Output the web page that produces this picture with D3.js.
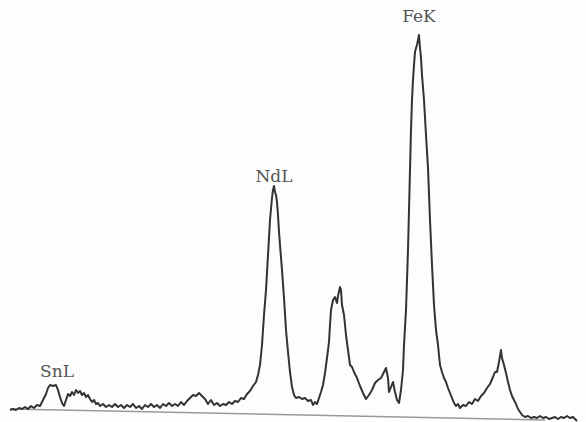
<!DOCTYPE html>
<html>
<head>
<meta charset="utf-8">
<script src="https://cdn.jsdelivr.net/npm/d3@7"></script>
<style>
  body { margin: 0; background: #fff; }
</style>
</head>
<body>
<div id="plot"></div>
<script>
// spectrum trace (channel, counts above the bottom edge)
var channels = [10,13,16,19,22,25,28,31,34,37,40,43,46,48,50,53,56,58,60,62,64,66,68,70,72,74,76,78,80,82,84,86,88,90,92,94,96,98,100,103,106,109,112,115,118,121,124,127,130,133,136,139,142,145,148,151,154,157,160,163,166,169,172,175,178,181,184,187,190,193,196,199,202,205,208,211,214,217,220,223,226,229,232,235,238,241,244,247,250,253,256,258,260,262,264,266,268,270,272,273,274,275,276,277,278,279,280,282,284,286,288,290,292,294,296,299,302,305,308,311,313,315,317,319,321,323,325,327,329,330,331,333,335,337,338,340,341,342,344,346,348,350,352,354,357,360,363,366,369,372,375,378,381,384,386,388,389,391,393,395,397,399,401,403,404,406,407,408,409,410,411,412,413,414,415,416,417,418,419,420,421,422,424,426,428,430,432,434,436,438,440,442,444,446,448,450,452,454,456,458,460,463,466,469,472,475,478,481,484,487,490,493,495,497,499,501,502,504,506,508,510,512,514,516,518,520,522,525,528,531,534,537,540,543,546,549,552,555,558,561,564,567,570,573,575,577];
var counts = [10,11,10,12,11,13,11,14,12,15,14,20,26,32,35,34,35,30,23,17,14,20,26,24,28,25,30,27,29,25,27,23,25,21,18,20,16,17,14,16,13,15,13,16,13,15,12,15,13,16,12,14,11,15,13,16,13,15,12,16,14,17,14,16,14,18,15,19,22,25,24,27,24,21,16,20,15,17,14,16,15,18,16,19,18,22,21,26,29,34,38,45,55,75,105,130,165,200,222,230,234,228,225,218,205,188,175,150,122,90,68,48,33,25,22,23,21,22,19,20,15,18,16,22,28,35,47,62,78,95,110,120,123,117,124,133,130,115,105,85,70,55,53,48,42,34,27,21,25,30,37,40,42,48,52,42,28,33,38,28,20,17,30,50,75,110,140,170,210,250,290,320,340,355,368,372,375,380,385,372,362,345,320,285,252,200,155,115,90,75,55,48,42,38,32,27,22,17,14,16,12,15,14,18,16,21,19,24,27,32,36,43,48,48,58,70,62,55,47,38,30,24,20,16,11,8,5,3,4,2,3,2,4,2,3,1,2,3,1,3,2,4,2,3,1,-1];

// thin background line under the spectrum
var bgChannels = [10, 545];
var bgCounts = [11, 0];

// peak labels
var peakNames = ["SnL", "NdL", "FeK"];
var peakChannels = [57, 274, 419];
var peakCounts = [43, 238, 398];

var width = 586, height = 422;

var svg = d3.select("div#plot")
  .append("svg")
    .attr("width", width)
    .attr("height", height);

svg.append("rect")
  .attr("width", width)
  .attr("height", height)
  .attr("fill", "#fdfdfd");

var x = d3.scaleLinear()
  .domain([0, 586])
  .range([0, 586]);

var y = d3.scaleLinear()
  .domain([0, 400])
  .range([420, 20]);

var bg = bgChannels.map(function(c, i) { return [c, bgCounts[i]]; });
svg.append("path")
  .datum(bg)
  .attr("fill", "none")
  .attr("stroke", "#999")
  .attr("stroke-width", 1.4)
  .attr("d", d3.line().x(d => x(d[0])).y(d => y(d[1])));

var spectrum = channels.map(function(c, i) { return [c, counts[i]]; });
svg.append("path")
  .datum(spectrum)
  .attr("fill", "none")
  .attr("stroke", "#333")
  .attr("stroke-width", 2)
  .attr("stroke-linejoin", "round")
  .attr("d", d3.line().x(d => x(d[0])).y(d => y(d[1])));

svg.selectAll("text.peak")
  .data(peakNames)
  .enter()
  .append("text")
    .attr("class", "peak")
    .attr("x", (d, i) => x(peakChannels[i]))
    .attr("y", (d, i) => y(peakCounts[i]))
    .attr("text-anchor", "middle")
    .style("font-family", "'DejaVu Serif', serif")
    .style("font-size", "17px")
    .style("fill", "#555")
    .text(d => d);
</script>
</body>
</html>
